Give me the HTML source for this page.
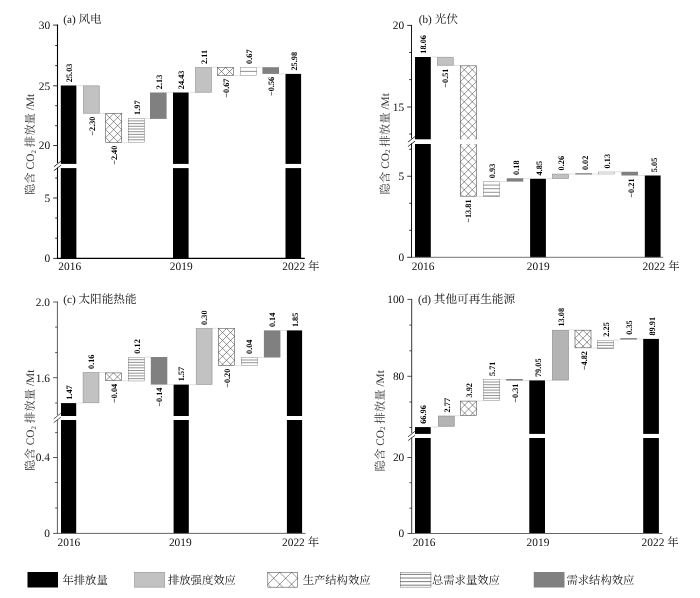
<!DOCTYPE html>
<html lang="zh-CN">
<head>
<meta charset="utf-8">
<title>隐含 CO2 排放量</title>
<style>
html,body{margin:0;padding:0;background:#fff;}
body{width:700px;height:598px;overflow:hidden;}
svg{display:block;}
text{font-family:"Liberation Serif","Noto Serif CJK SC",serif;fill:#111;text-rendering:geometricPrecision;}
.c{font-family:"Liberation Serif","Noto Serif CJK SC",serif;}
.t{font-size:11.4px;}
.v{font-size:8.3px;font-weight:bold;fill:#000;}
.h{font-size:11.2px;}
.h .c{font-size:11.6px;}
.y{font-size:11.4px;fill:#333;}
.s{font-size:7px;}
.l{font-size:11.3px;font-family:"Liberation Serif","Noto Serif CJK SC",serif;}
</style>
</head>
<body>
<svg width="700" height="598" viewBox="0 0 700 598">
<rect width="700" height="598" fill="#fff"/>
<path d="M77.4 85.6H83M99.6 113.4H105.4M122 142.6H128M144.6 118.4H150M166.6 92.6H173M189.6 92.6H195.2M211.8 67.2H217.2M233.8 75.6H240.2M256.8 67.2H262.4M279 73.9H285.5" stroke="#cfcfcf" stroke-width="0.6" fill="none"/>
<rect x="60.8" y="85.5" width="15.6" height="78.4" fill="#000"/>
<rect x="60.8" y="168.1" width="15.6" height="90.3" fill="#000"/>
<text class="v" transform="translate(71.8 82.2) rotate(-90)" text-anchor="start">25.03</text>
<rect x="83.35" y="85.85" width="15.9" height="27.4" fill="#c2c2c2" stroke="#9a9a9a" stroke-width="0.7"/>
<text class="v" transform="translate(94.5 116.5) rotate(-90)" text-anchor="end">−2.30</text>
<rect x="105.7" y="113.6" width="16" height="28.8" fill="#fff" stroke="#555" stroke-width="0.6"/>
<path d="M105.7 137.6L110.5 142.4M105.7 129.6L118.5 142.4M105.7 121.6L121.7 137.6M105.7 113.6L121.7 129.6M113.7 113.6L121.7 121.6M105.7 121.6L113.7 113.6M105.7 129.6L121.7 113.6M105.7 137.6L121.7 121.6M108.9 142.4L121.7 129.6M116.9 142.4L121.7 137.6" stroke="#3c3c3c" stroke-width="0.55" fill="none"/>
<text class="v" transform="translate(116.9 145.6) rotate(-90)" text-anchor="end">−2.40</text>
<rect x="128.25" y="118.45" width="16.1" height="24" fill="#fff" stroke="#888" stroke-width="0.5"/>
<path d="M128 120.9H144.6M128 123.6H144.6M128 126.3H144.6M128 129H144.6M128 131.7H144.6M128 134.4H144.6M128 137.1H144.6M128 139.8H144.6" stroke="#666" stroke-width="0.7" fill="none"/>
<text class="v" transform="translate(139.5 114.9) rotate(-90)" text-anchor="start">1.97</text>
<rect x="150" y="92.5" width="16.6" height="26.4" fill="#808080"/>
<text class="v" transform="translate(161.5 89.2) rotate(-90)" text-anchor="start">2.13</text>
<rect x="173" y="92.5" width="15.6" height="71.4" fill="#000"/>
<rect x="173" y="168.1" width="15.6" height="90.3" fill="#000"/>
<text class="v" transform="translate(184 89.2) rotate(-90)" text-anchor="start">24.43</text>
<rect x="195.55" y="67.55" width="15.9" height="24.7" fill="#c2c2c2" stroke="#9a9a9a" stroke-width="0.7"/>
<text class="v" transform="translate(206.7 63.9) rotate(-90)" text-anchor="start">2.11</text>
<rect x="217.5" y="67.5" width="16" height="7.8" fill="#fff" stroke="#555" stroke-width="0.6"/>
<path d="M217.5 67.5L225.3 75.3M225.5 67.5L233.3 75.3M217.7 75.3L225.5 67.5M225.7 75.3L233.5 67.5" stroke="#3c3c3c" stroke-width="0.55" fill="none"/>
<text class="v" transform="translate(228.7 78.5) rotate(-90)" text-anchor="end">−0.67</text>
<rect x="240.45" y="67.45" width="16.1" height="7.9" fill="#fff" stroke="#888" stroke-width="0.5"/>
<path d="M240.2 71.4H256.8" stroke="#666" stroke-width="0.7" fill="none"/>
<text class="v" transform="translate(251.7 63.9) rotate(-90)" text-anchor="start">0.67</text>
<rect x="262.4" y="67.2" width="16.6" height="6.7" fill="#808080"/>
<text class="v" transform="translate(273.9 76.8) rotate(-90)" text-anchor="end">−0.56</text>
<rect x="285.5" y="73.9" width="15.6" height="90" fill="#000"/>
<rect x="285.5" y="168.1" width="15.6" height="90.3" fill="#000"/>
<text class="v" transform="translate(296.5 70.6) rotate(-90)" text-anchor="start">25.98</text>
<path d="M57.5 24.6V163.1M57.5 167.7V258.95" stroke="#000" stroke-width="1.1" fill="none"/>
<path d="M56.95 258.4H304.8" stroke="#000" stroke-width="1.1" fill="none"/>
<path d="M53.9 166.8L60.9 161.2M53.9 170.7L60.9 165.3" stroke="#000" stroke-width="0.8" fill="none"/>
<text class="t" x="50.1" y="29" text-anchor="end">30</text>
<text class="t" x="50.1" y="89.7" text-anchor="end">25</text>
<text class="t" x="50.1" y="149.4" text-anchor="end">20</text>
<text class="t" x="50.1" y="201.9" text-anchor="end">5</text>
<text class="t" x="50.1" y="262.3" text-anchor="end">0</text>
<path d="M53.2 25.1H57.5M53.2 85.8H57.5M53.2 145.5H57.5M53.2 198H57.5M53.2 258.4H57.5M55.2 45.5H57.5M55.2 65.6H57.5M55.2 105.7H57.5M55.2 125.7H57.5M55.2 178H57.5M55.2 218H57.5M55.2 238.2H57.5" stroke="#000" stroke-width="0.8" fill="none"/>
<text class="t" x="69.7" y="270.1" text-anchor="middle">2016</text>
<text class="t" x="181.2" y="270.1" text-anchor="middle">2019</text>
<text class="t" x="282.3" y="270.1">2022 <tspan class="c">年</tspan></text>
<text class="h" x="63.3" y="23.2">(a) <tspan class="c">风电</tspan></text>
<text class="y" transform="translate(34 144.4) rotate(-90)" text-anchor="middle"><tspan class="c">隐含</tspan> CO<tspan class="s" dy="1.6">2</tspan><tspan dy="-1.6"> </tspan><tspan class="c">排放量</tspan> /Mt</text>
<path d="M431.6 57H437M453.6 65.6H460M476.6 196.5H483.2M499.8 181.5H506.7M523.3 178.6H530.1M546.7 178.75H552.2M568.8 173.9H575.4M592 174H598M614.6 171.9H621.4M638 175.5H644.8" stroke="#cfcfcf" stroke-width="0.6" fill="none"/>
<rect x="415" y="57" width="15.8" height="82.3" fill="#000"/>
<rect x="415" y="144" width="15.8" height="113.3" fill="#000"/>
<text class="v" transform="translate(425.8 53.7) rotate(-90)" text-anchor="start">18.06</text>
<rect x="437.35" y="57.25" width="15.9" height="8" fill="#c2c2c2" stroke="#9a9a9a" stroke-width="0.7"/>
<text class="v" transform="translate(448.2 68.5) rotate(-90)" text-anchor="end">−0.51</text>
<rect x="460.3" y="65.8" width="16" height="130.4" fill="#fff" stroke="#555" stroke-width="0.6"/>
<path d="M460.3 193.8L462.7 196.2M460.3 185.8L470.7 196.2M460.3 177.8L476.3 193.8M460.3 169.8L476.3 185.8M460.3 161.8L476.3 177.8M460.3 153.8L476.3 169.8M460.3 145.8L476.3 161.8M460.3 137.8L476.3 153.8M460.3 129.8L476.3 145.8M460.3 121.8L476.3 137.8M460.3 113.8L476.3 129.8M460.3 105.8L476.3 121.8M460.3 97.8L476.3 113.8M460.3 89.8L476.3 105.8M460.3 81.8L476.3 97.8M460.3 73.8L476.3 89.8M460.3 65.8L476.3 81.8M468.3 65.8L476.3 73.8M460.3 73.8L468.3 65.8M460.3 81.8L476.3 65.8M460.3 89.8L476.3 73.8M460.3 97.8L476.3 81.8M460.3 105.8L476.3 89.8M460.3 113.8L476.3 97.8M460.3 121.8L476.3 105.8M460.3 129.8L476.3 113.8M460.3 137.8L476.3 121.8M460.3 145.8L476.3 129.8M460.3 153.8L476.3 137.8M460.3 161.8L476.3 145.8M460.3 169.8L476.3 153.8M460.3 177.8L476.3 161.8M460.3 185.8L476.3 169.8M460.3 193.8L476.3 177.8M465.9 196.2L476.3 185.8M473.9 196.2L476.3 193.8" stroke="#3c3c3c" stroke-width="0.55" fill="none"/>
<rect x="459" y="139.3" width="18.6" height="4.7" fill="#fff"/>
<text class="v" transform="translate(471.2 199.4) rotate(-90)" text-anchor="end">−13.81</text>
<rect x="483.45" y="181.75" width="16.1" height="14.5" fill="#fff" stroke="#888" stroke-width="0.5"/>
<path d="M483.2 185.1H499.8M483.2 188.7H499.8M483.2 192.3H499.8M483.2 195.9H499.8" stroke="#666" stroke-width="0.7" fill="none"/>
<text class="v" transform="translate(495.3 178.2) rotate(-90)" text-anchor="start">0.93</text>
<rect x="506.7" y="178.25" width="16.6" height="3.35" fill="#808080"/>
<text class="v" transform="translate(518.8 174.95) rotate(-90)" text-anchor="start">0.18</text>
<rect x="530.1" y="178.75" width="15.8" height="78.55" fill="#000"/>
<text class="v" transform="translate(541.8 175.45) rotate(-90)" text-anchor="start">4.85</text>
<rect x="552.55" y="174.1" width="15.9" height="4.3" fill="#c2c2c2" stroke="#9a9a9a" stroke-width="0.7"/>
<text class="v" transform="translate(564.3 170.45) rotate(-90)" text-anchor="start">0.26</text>
<rect x="575.7" y="173.7" width="16" height="0.4" fill="#fff" stroke="#555" stroke-width="0.6"/>
<text class="v" transform="translate(587.5 170.1) rotate(-90)" text-anchor="start">0.02</text>
<rect x="598.25" y="172" width="16.1" height="2" fill="#fff" stroke="#888" stroke-width="0.5"/>
<text class="v" transform="translate(610.1 168.45) rotate(-90)" text-anchor="start">0.13</text>
<rect x="621.4" y="171.75" width="16.6" height="3.75" fill="#808080"/>
<text class="v" transform="translate(633.5 178.4) rotate(-90)" text-anchor="end">−0.21</text>
<rect x="644.8" y="175.5" width="15.8" height="81.8" fill="#000"/>
<text class="v" transform="translate(656.5 172.2) rotate(-90)" text-anchor="start">5.05</text>
<path d="M411.5 24.9V138.5M411.5 143.6V257.75" stroke="#000" stroke-width="0.9" fill="none"/>
<path d="M411.05 257.3H663.2" stroke="#666" stroke-width="0.9" fill="none"/>
<path d="M407.9 142.2L414.9 136.6M407.9 146.6L414.9 141.2" stroke="#000" stroke-width="0.8" fill="none"/>
<text class="t" x="404.1" y="29.1" text-anchor="end">20</text>
<text class="t" x="404.1" y="110.7" text-anchor="end">15</text>
<text class="t" x="404.1" y="179.95" text-anchor="end">5</text>
<text class="t" x="404.1" y="261" text-anchor="end">0</text>
<path d="M407.2 25.4H411.5M407.2 107H411.5M407.2 176.25H411.5M407.2 257.3H411.5M409.2 52.5H411.5M409.2 79.6H411.5M409.2 134H411.5M409.2 149.3H411.5M409.2 203.25H411.5M409.2 230.3H411.5" stroke="#000" stroke-width="0.8" fill="none"/>
<text class="t" x="423.1" y="269.9" text-anchor="middle">2016</text>
<text class="t" x="538.2" y="269.9" text-anchor="middle">2019</text>
<text class="t" x="642.5" y="269.9">2022 <tspan class="c">年</tspan></text>
<text class="h" x="418.8" y="23.2">(b) <tspan class="c">光伏</tspan></text>
<text class="y" transform="translate(388.6 143.8) rotate(-90)" text-anchor="middle"><tspan class="c">隐含</tspan> CO<tspan class="s" dy="1.6">2</tspan><tspan dy="-1.6"> </tspan><tspan class="c">排放量</tspan> /Mt</text>
<path d="M77.5 403H82.8M99.3 372.5H105.2M121.7 380.9H128.1M144.6 357H150.8M167.3 384.6H173.6M190.1 384.6H195.9M212.4 328.3H218.3M234.8 365.7H241M257.5 357.4H263.9M280.4 330.4H286.9" stroke="#cfcfcf" stroke-width="0.6" fill="none"/>
<rect x="61" y="403.1" width="15.2" height="12.9" fill="#000"/>
<rect x="61" y="420" width="15.2" height="113.4" fill="#000"/>
<text class="v" transform="translate(71.8 399.8) rotate(-90)" text-anchor="start">1.47</text>
<rect x="83.15" y="372.65" width="15.8" height="30.1" fill="#c2c2c2" stroke="#9a9a9a" stroke-width="0.7"/>
<text class="v" transform="translate(94.25 369) rotate(-90)" text-anchor="start">0.16</text>
<rect x="105.5" y="372.9" width="15.9" height="7.7" fill="#fff" stroke="#555" stroke-width="0.6"/>
<path d="M105.5 372.9L113.2 380.6M113.45 372.9L121.15 380.6M105.75 380.6L113.45 372.9M113.7 380.6L121.4 372.9" stroke="#3c3c3c" stroke-width="0.55" fill="none"/>
<text class="v" transform="translate(116.65 383.8) rotate(-90)" text-anchor="end">−0.04</text>
<rect x="128.35" y="357.25" width="16" height="23.7" fill="#fff" stroke="#888" stroke-width="0.5"/>
<path d="M128.1 359.7H144.6M128.1 362.4H144.6M128.1 365.1H144.6M128.1 367.8H144.6M128.1 370.5H144.6M128.1 373.2H144.6M128.1 375.9H144.6M128.1 378.6H144.6" stroke="#666" stroke-width="0.7" fill="none"/>
<text class="v" transform="translate(139.55 353.7) rotate(-90)" text-anchor="start">0.12</text>
<rect x="150.8" y="357" width="16.5" height="27.6" fill="#808080"/>
<text class="v" transform="translate(162.25 387.5) rotate(-90)" text-anchor="end">−0.14</text>
<rect x="173.6" y="384.6" width="15.2" height="31.4" fill="#000"/>
<rect x="173.6" y="420" width="15.2" height="113.4" fill="#000"/>
<text class="v" transform="translate(184.4 381.3) rotate(-90)" text-anchor="start">1.57</text>
<rect x="196.25" y="328.55" width="15.8" height="55.8" fill="#c2c2c2" stroke="#9a9a9a" stroke-width="0.7"/>
<text class="v" transform="translate(207.35 324.9) rotate(-90)" text-anchor="start">0.30</text>
<rect x="218.6" y="328.5" width="15.9" height="36.9" fill="#fff" stroke="#555" stroke-width="0.6"/>
<path d="M218.6 360.3L223.7 365.4M218.6 352.35L231.65 365.4M218.6 344.4L234.5 360.3M218.6 336.45L234.5 352.35M218.6 328.5L234.5 344.4M226.55 328.5L234.5 336.45M218.6 336.45L226.55 328.5M218.6 344.4L234.5 328.5M218.6 352.35L234.5 336.45M218.6 360.3L234.5 344.4M221.45 365.4L234.5 352.35M229.4 365.4L234.5 360.3" stroke="#3c3c3c" stroke-width="0.55" fill="none"/>
<text class="v" transform="translate(229.75 368.6) rotate(-90)" text-anchor="end">−0.20</text>
<rect x="241.25" y="357.55" width="16" height="7.9" fill="#fff" stroke="#888" stroke-width="0.5"/>
<path d="M241 360H257.5M241 362.7H257.5" stroke="#666" stroke-width="0.7" fill="none"/>
<text class="v" transform="translate(252.45 354) rotate(-90)" text-anchor="start">0.04</text>
<rect x="263.9" y="330.4" width="16.5" height="27.1" fill="#808080"/>
<text class="v" transform="translate(275.35 327.1) rotate(-90)" text-anchor="start">0.14</text>
<rect x="286.9" y="330.4" width="15.2" height="85.6" fill="#000"/>
<rect x="286.9" y="420" width="15.2" height="113.4" fill="#000"/>
<text class="v" transform="translate(297.7 327.1) rotate(-90)" text-anchor="start">1.85</text>
<path d="M57.4 301.5V415.2M57.4 419.6V533.8" stroke="#333" stroke-width="0.8" fill="none"/>
<path d="M57 533.4H305.5" stroke="#555" stroke-width="0.9" fill="none"/>
<path d="M53.8 418.9L60.8 413.3M53.8 422.6L60.8 417.2" stroke="#333" stroke-width="0.8" fill="none"/>
<text class="t" x="50" y="305.8" text-anchor="end">2.0</text>
<text class="t" x="50" y="381.5" text-anchor="end">1.6</text>
<text class="t" x="50" y="461.3" text-anchor="end">0.4</text>
<text class="t" x="50" y="537.2" text-anchor="end">0</text>
<path d="M53.1 302H57.4M53.1 377.7H57.4M53.1 457.5H57.4M53.1 533.4H57.4M55.1 327.1H57.4M55.1 352.6H57.4M55.1 403H57.4M55.1 432.6H57.4M55.1 482.5H57.4M55.1 508H57.4" stroke="#333" stroke-width="0.8" fill="none"/>
<text class="t" x="68.9" y="545.7" text-anchor="middle">2016</text>
<text class="t" x="180.3" y="545.7" text-anchor="middle">2019</text>
<text class="t" x="282" y="545.7">2022 <tspan class="c">年</tspan></text>
<text class="h" x="63.3" y="303.2">(c) <tspan class="c">太阳能热能</tspan></text>
<text class="y" transform="translate(34 420.3) rotate(-90)" text-anchor="middle"><tspan class="c">隐含</tspan> CO<tspan class="s" dy="1.6">2</tspan><tspan dy="-1.6"> </tspan><tspan class="c">排放量</tspan> /Mt</text>
<path d="M431.6 427H438M454.6 415.7H460.3M476.9 400.8H483.4M500 379.3H506.2M522.8 380.5H529.3M545.9 380.4H552.1M568.7 329.9H574.7M591.3 348.1H597.2M613.8 340H620.3M636.9 339H643.2" stroke="#cfcfcf" stroke-width="0.6" fill="none"/>
<rect x="415" y="427.1" width="15.7" height="6.8" fill="#000"/>
<rect x="415" y="438" width="15.7" height="95.5" fill="#000"/>
<text class="v" transform="translate(426.35 423.8) rotate(-90)" text-anchor="start">66.96</text>
<rect x="438.35" y="416.05" width="15.9" height="10.2" fill="#b4b4b4" stroke="#909090" stroke-width="0.7"/>
<text class="v" transform="translate(449.8 412.4) rotate(-90)" text-anchor="start">2.77</text>
<rect x="460.6" y="401.1" width="16" height="14.3" fill="#fff" stroke="#555" stroke-width="0.6"/>
<path d="M460.6 409.1L466.9 415.4M460.6 401.1L474.9 415.4M468.6 401.1L476.6 409.1M460.6 409.1L468.6 401.1M462.3 415.4L476.6 401.1M470.3 415.4L476.6 409.1" stroke="#3c3c3c" stroke-width="0.55" fill="none"/>
<text class="v" transform="translate(472.1 397.5) rotate(-90)" text-anchor="start">3.92</text>
<rect x="483.65" y="379.55" width="16.1" height="21" fill="#fff" stroke="#888" stroke-width="0.5"/>
<path d="M483.4 382H500M483.4 384.7H500M483.4 387.4H500M483.4 390.1H500M483.4 392.8H500M483.4 395.5H500M483.4 398.2H500" stroke="#666" stroke-width="0.7" fill="none"/>
<text class="v" transform="translate(495.2 376) rotate(-90)" text-anchor="start">5.71</text>
<rect x="506.2" y="379" width="16.6" height="1.6" fill="#808080"/>
<text class="v" transform="translate(518 383.5) rotate(-90)" text-anchor="end">−0.31</text>
<rect x="529.3" y="380.4" width="15.7" height="53.5" fill="#000"/>
<rect x="529.3" y="438" width="15.7" height="95.5" fill="#000"/>
<text class="v" transform="translate(540.65 377.1) rotate(-90)" text-anchor="start">79.05</text>
<rect x="552.45" y="330.25" width="15.9" height="49.8" fill="#b4b4b4" stroke="#909090" stroke-width="0.7"/>
<text class="v" transform="translate(563.9 326.6) rotate(-90)" text-anchor="start">13.08</text>
<rect x="575" y="330.2" width="16" height="17.6" fill="#fff" stroke="#555" stroke-width="0.6"/>
<path d="M575 346.2L576.6 347.8M575 338.2L584.6 347.8M575 330.2L591 346.2M583 330.2L591 338.2M575 338.2L583 330.2M575 346.2L591 330.2M581.4 347.8L591 338.2M589.4 347.8L591 346.2" stroke="#3c3c3c" stroke-width="0.55" fill="none"/>
<text class="v" transform="translate(586.5 351) rotate(-90)" text-anchor="end">−4.82</text>
<rect x="597.45" y="340.25" width="16.1" height="8.1" fill="#fff" stroke="#888" stroke-width="0.5"/>
<path d="M597.2 342.7H613.8M597.2 345.4H613.8M597.2 348.1H613.8" stroke="#666" stroke-width="0.7" fill="none"/>
<text class="v" transform="translate(609 336.7) rotate(-90)" text-anchor="start">2.25</text>
<rect x="620.3" y="338.1" width="16.6" height="1.5" fill="#808080"/>
<text class="v" transform="translate(632.1 334.8) rotate(-90)" text-anchor="start">0.35</text>
<rect x="643.2" y="338.9" width="15.7" height="95" fill="#000"/>
<rect x="643.2" y="438" width="15.7" height="95.5" fill="#000"/>
<text class="v" transform="translate(654.55 335.6) rotate(-90)" text-anchor="start">89.91</text>
<path d="M411.7 298.9V433.1M411.7 437.6V533.95" stroke="#222" stroke-width="0.9" fill="none"/>
<path d="M411.25 533.5H662.5" stroke="#666" stroke-width="1.2" fill="none"/>
<path d="M408.1 436.8L415.1 431.2M408.1 440.6L415.1 435.2" stroke="#222" stroke-width="0.8" fill="none"/>
<text class="t" x="404.3" y="303.2" text-anchor="end">100</text>
<text class="t" x="404.3" y="380.1" text-anchor="end">80</text>
<text class="t" x="404.3" y="461.3" text-anchor="end">20</text>
<text class="t" x="404.3" y="537.3" text-anchor="end">0</text>
<path d="M407.4 299.4H411.7M407.4 376.3H411.7M407.4 457.5H411.7M407.4 533.5H411.7M409.4 325.1H411.7M409.4 350.8H411.7M409.4 402H411.7M409.4 427.5H411.7M409.4 482.7H411.7M409.4 508.2H411.7" stroke="#222" stroke-width="0.8" fill="none"/>
<text class="t" x="424.05" y="545.9" text-anchor="middle">2016</text>
<text class="t" x="537.95" y="545.9" text-anchor="middle">2019</text>
<text class="t" x="641.55" y="545.9">2022 <tspan class="c">年</tspan></text>
<text class="h" x="418" y="303.2">(d) <tspan class="c">其他可再生能源</tspan></text>
<text class="y" transform="translate(383.8 420.8) rotate(-90)" text-anchor="middle"><tspan class="c">隐含</tspan> CO<tspan class="s" dy="1.6">2</tspan><tspan dy="-1.6"> </tspan><tspan class="c">排放量</tspan> /Mt</text>
<rect x="27.5" y="572" width="30.5" height="15.5" fill="#000"/>
<text class="l" x="62.5" y="584.2">年排放量</text>
<rect x="134.6" y="572.35" width="30.05" height="14.8" fill="#c2c2c2" stroke="#9a9a9a" stroke-width="0.7"/>
<text class="l" x="168" y="584.2">排放强度效应</text>
<rect x="267.8" y="572.3" width="29.9" height="14.9" fill="#fff" stroke="#555" stroke-width="0.6"/>
<path d="M267.8 584.2L270.8 587.2M267.8 572.3L282.7 587.2M279.7 572.3L294.6 587.2M291.6 572.3L297.7 578.4M267.8 584.2L279.7 572.3M276.7 587.2L291.6 572.3M288.6 587.2L297.7 578.1" stroke="#3c3c3c" stroke-width="0.55" fill="none"/>
<text class="l" x="302.7" y="584.2">生产结构效应</text>
<rect x="400.3" y="572.3" width="30.65" height="14.9" fill="#fff" stroke="#888" stroke-width="0.6"/>
<path d="M400 574.4H431.25M400 578H431.25M400 581.6H431.25M400 585.2H431.25" stroke="#444" stroke-width="0.7" fill="none"/>
<text class="l" x="432" y="584.2">总需求量效应</text>
<rect x="533.75" y="572" width="30.75" height="15.5" fill="#808080"/>
<text class="l" x="566.5" y="584.2">需求结构效应</text>
</svg>
</body>
</html>
